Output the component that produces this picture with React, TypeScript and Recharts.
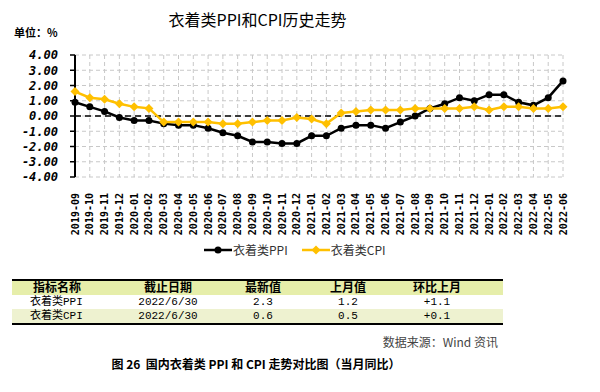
import { CartesianGrid, Line, LineChart, ReferenceLine, XAxis, YAxis } from 'recharts';

const MONTHS = [
  '2019-09', '2019-10', '2019-11', '2019-12',
  '2020-01', '2020-02', '2020-03', '2020-04', '2020-05', '2020-06', '2020-07', '2020-08', '2020-09', '2020-10', '2020-11', '2020-12',
  '2021-01', '2021-02', '2021-03', '2021-04', '2021-05', '2021-06', '2021-07', '2021-08', '2021-09', '2021-10', '2021-11', '2021-12',
  '2022-01', '2022-02', '2022-03', '2022-04', '2022-05', '2022-06',
];

const PPI = [
  0.9, 0.6, 0.3, -0.1, -0.3, -0.3, -0.5, -0.6, -0.6, -0.8, -1.1, -1.3, -1.7, -1.7, -1.8, -1.8,
  -1.3, -1.3, -0.8, -0.6, -0.6, -0.8, -0.4, 0.0, 0.5, 0.8, 1.2, 1.0, 1.4, 1.4, 0.9, 0.7, 1.2, 2.3,
];

const CPI = [
  1.6, 1.2, 1.1, 0.8, 0.6, 0.5, -0.4, -0.4, -0.4, -0.4, -0.5, -0.5, -0.4, -0.3, -0.3, -0.1,
  -0.2, -0.5, 0.2, 0.3, 0.4, 0.4, 0.4, 0.5, 0.5, 0.5, 0.5, 0.6, 0.4, 0.6, 0.6, 0.5, 0.5, 0.6,
];

const Y_TICKS = [-4, -3, -2, -1, 0, 1, 2, 3, 4];

const TABLE_HEAD = ['指标名称', '截止日期', '最新值', '上月值', '环比上月'];
const TABLE_NAMES = ['衣着类PPI', '衣着类CPI'];
const TABLE_DATES = ['2022/6/30', '2022/6/30'];
const TABLE_LATEST = ['2.3', '0.6'];
const TABLE_PREV = ['1.2', '0.5'];
const TABLE_CHANGE = ['+1.1', '+0.1'];

const PPI_COLOR = '#000000';
const CPI_COLOR = '#ffc000';
const CJK = "'Noto Sans CJK SC', sans-serif";
const MONO = "'DejaVu Sans Mono', monospace";
const TABLE_HEAD_FONT = "'Liberation Sans', 'Noto Sans CJK SC', sans-serif";
const TABLE_FONT = "'Liberation Mono', 'Noto Sans CJK SC', monospace";

const rows = MONTHS.map((m, i) => ({ m, ppi: PPI[i], cpi: CPI[i] }));

function Diamond({ cx, cy }: { cx?: number; cy?: number }) {
  if (cx == null || cy == null) return null;
  const r = 4.5;
  return <path d={`M${cx},${cy - r}L${cx + r},${cy}L${cx},${cy + r}L${cx - r},${cy}Z`} fill={CPI_COLOR} />;
}

function MonthTick({ x, y, payload }: any) {
  return (
    <text
      transform={`translate(${x},${y + 8}) rotate(-90)`}
      textAnchor="end"
      dy="0.35em"
      fontFamily={MONO}
      fontWeight="bold"
      fontSize={10}
      fill="#000"
    >
      {payload.value}
    </text>
  );
}

const COLS = [90, 132, 58, 112, 66, 33];

function Cell({ i, children, left }: { i: number; children?: any; left?: boolean }) {
  return (
    <td
      style={{
        width: COLS[i],
        padding: 0,
        paddingLeft: left ? 18 : 0,
        textAlign: left ? 'left' : 'center',
        height: 14,
        lineHeight: '14px',
        overflow: 'hidden',
        whiteSpace: 'nowrap',
      }}
    >
      {children}
    </td>
  );
}

export default function App() {
  return (
    <div style={{ position: 'fixed', left: 0, top: 0, width: 600, height: 392, background: '#fff', overflow: 'hidden' }}>
      <div style={{ position: 'absolute', left: 0, width: 515, top: 7, textAlign: 'center', fontFamily: CJK, fontSize: 16, color: '#000' }}>
        衣着类PPI和CPI历史走势
      </div>
      <div style={{ position: 'absolute', left: 14, top: 24, fontFamily: CJK, fontSize: 11, fontWeight: 'bold', color: '#000' }}>
        单位：%
      </div>

      <div style={{ position: 'absolute', left: 0, top: 0 }}>
        <LineChart width={600} height={240} data={rows} margin={{ top: 55, right: 37, bottom: 0, left: 0 }}>
          <CartesianGrid stroke="#c8c8c8" strokeDasharray="4 3" />
          <XAxis dataKey="m" interval={0} axisLine={false} tickLine={false} height={63} tick={<MonthTick />} />
          <YAxis
            width={75}
            domain={[-4, 4]}
            ticks={Y_TICKS}
            interval={0}
            tickFormatter={(v: number) => v.toFixed(2)}
            axisLine={{ stroke: '#000', strokeWidth: 2 }}
            tickLine={{ stroke: '#000', strokeWidth: 1.5 }}
            tickSize={5}
            tickMargin={12}
            tick={{ fill: '#000', fontSize: 12, fontWeight: 'bold', fontStyle: 'italic', fontFamily: MONO }}
          />
          <ReferenceLine y={0} stroke="#000" strokeWidth={1.5} strokeDasharray="6 4" />
          <Line
            dataKey="ppi"
            name="衣着类PPI"
            type="linear"
            stroke={PPI_COLOR}
            strokeWidth={2.5}
            dot={{ r: 3.5, fill: PPI_COLOR, stroke: PPI_COLOR, strokeWidth: 0 }}
            isAnimationActive={false}
          />
          <Line
            dataKey="cpi"
            name="衣着类CPI"
            type="linear"
            stroke={CPI_COLOR}
            strokeWidth={2.5}
            dot={<Diamond />}
            isAnimationActive={false}
          />
        </LineChart>
      </div>

      <div style={{ position: 'absolute', top: 241, left: 204, display: 'flex', alignItems: 'center', fontFamily: CJK, fontSize: 12, color: '#333' }}>
        <svg width={28} height={10}>
          <line x1={0} y1={5} x2={28} y2={5} stroke={PPI_COLOR} strokeWidth={2.5} />
          <circle cx={14} cy={5} r={3.5} fill={PPI_COLOR} />
        </svg>
        <span style={{ marginLeft: 1, marginRight: 14 }}>衣着类PPI</span>
        <svg width={28} height={10}>
          <line x1={0} y1={5} x2={28} y2={5} stroke={CPI_COLOR} strokeWidth={2.5} />
          <path d="M14,0.5L18.5,5L14,9.5L9.5,5Z" fill={CPI_COLOR} />
        </svg>
        <span style={{ marginLeft: 1 }}>衣着类CPI</span>
      </div>

      <table
        style={{
          position: 'absolute',
          left: 12,
          top: 279,
          width: 491,
          borderCollapse: 'collapse',
          borderTop: '2px solid #000',
          borderBottom: '2px solid #000',
          fontFamily: TABLE_FONT,
          fontSize: 11,
          color: '#000',
          tableLayout: 'fixed',
        }}
      >
        <tbody>
          <tr style={{ background: '#e6eeaa', fontWeight: 'bold', fontSize: 12, fontFamily: TABLE_HEAD_FONT }}>
            {TABLE_HEAD.map((h, i) => (
              <Cell key={h} i={i}>{h}</Cell>
            ))}
            <Cell i={5} />
          </tr>
          {TABLE_NAMES.map((n, r) => (
            <tr key={n} style={{ background: r === 1 ? '#eef2d0' : '#fff' }}>
              <Cell i={0} left>{n}</Cell>
              <Cell i={1}>{TABLE_DATES[r]}</Cell>
              <Cell i={2}>{TABLE_LATEST[r]}</Cell>
              <Cell i={3}>{TABLE_PREV[r]}</Cell>
              <Cell i={4}>{TABLE_CHANGE[r]}</Cell>
              <Cell i={5} />
            </tr>
          ))}
        </tbody>
      </table>

      <div style={{ position: 'absolute', right: 102, top: 333, fontFamily: CJK, fontSize: 12, color: '#444' }}>
        数据来源：Wind 资讯
      </div>
      <div style={{ position: 'absolute', left: 0, width: 512, top: 355, textAlign: 'center', fontFamily: CJK, fontSize: 12, fontWeight: 'bold', color: '#000' }}>
        图 26&nbsp;&nbsp;国内衣着类 PPI 和 CPI 走势对比图（当月同比）
      </div>
    </div>
  );
}
